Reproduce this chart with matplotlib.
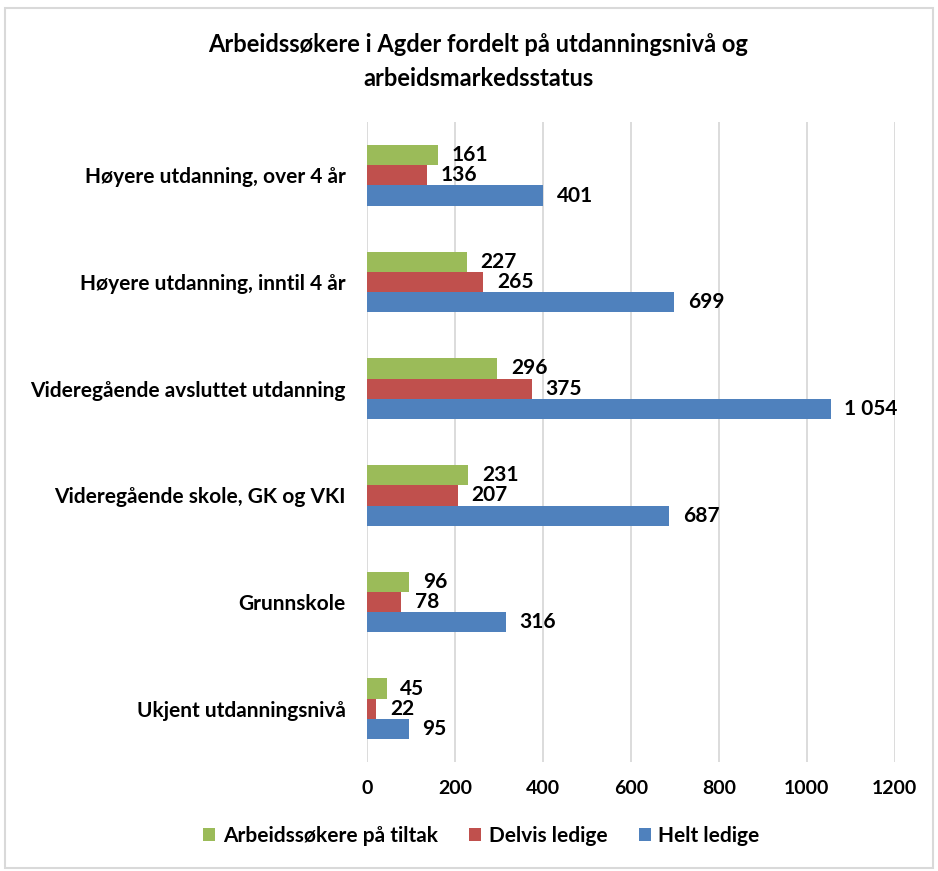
import matplotlib.pyplot as plt
import numpy as np
from matplotlib.patches import Rectangle

categories = ['Høyere utdanning, over 4 år', 'Høyere utdanning, inntil 4 år',
              'Videregående avsluttet utdanning', 'Videregående skole, GK og VKI',
              'Grunnskole', 'Ukjent utdanningsnivå']
tiltak = [161, 227, 296, 231, 96, 45]
delvis = [136, 265, 375, 207, 78, 22]
helt = [401, 699, 1054, 687, 316, 95]
series_names = ['Arbeidssøkere på tiltak', 'Delvis ledige', 'Helt ledige']
colors = ['#9BBB59', '#C0504D', '#4F81BD']

plt.rcParams['font.family'] = ['Lato', 'DejaVu Sans']
plt.rcParams['font.weight'] = 'bold'

fig = plt.figure(figsize=(9.38, 8.71), dpi=100)
ax = fig.add_axes([0.391, 0.125, 0.563, 0.735])

y = np.arange(len(categories))
h = 0.19
for i, (vals, name, c) in enumerate(zip([tiltak, delvis, helt], series_names, colors)):
    bars = ax.barh(y + (i - 1) * h, vals, height=h, color=c, label=name, zorder=3)
    labels = [f'{v:,}'.replace(',', ' ') for v in vals]
    ax.bar_label(bars, labels=labels, padding=10, fontsize=15, fontweight='bold', color='black')

ax.set_ylim(len(categories) - 0.5, -0.5)
ax.set_xlim(0, 1200)
ax.set_xticks(range(0, 1201, 200))
ax.set_yticks(y)
ax.set_yticklabels(categories, fontsize=15, fontweight='bold')
ax.tick_params(axis='x', labelsize=14, length=0, pad=13)
ax.tick_params(axis='y', length=0, pad=15)
ax.grid(axis='x', color='#D9D9D9', linewidth=1.3, zorder=0)
for s in ax.spines.values():
    s.set_visible(False)

fig.suptitle('Arbeidssøkere i Agder fordelt på utdanningsnivå og\narbeidsmarkedsstatus',
             x=0.51, y=0.962, fontsize=17, fontweight='bold', linespacing=1.55)

fig.legend(loc='center', bbox_to_anchor=(0.513, 0.04), ncol=3, frameon=False,
           fontsize=15, handlelength=0.6, handleheight=0.6, handletextpad=0.35,
           columnspacing=1.5)

fig.patches.append(Rectangle((0.005, 0.003), 0.99, 0.988, transform=fig.transFigure,
                             fill=False, edgecolor='#D9D9D9', linewidth=1.5))

fig.savefig('out.png', dpi=100)
